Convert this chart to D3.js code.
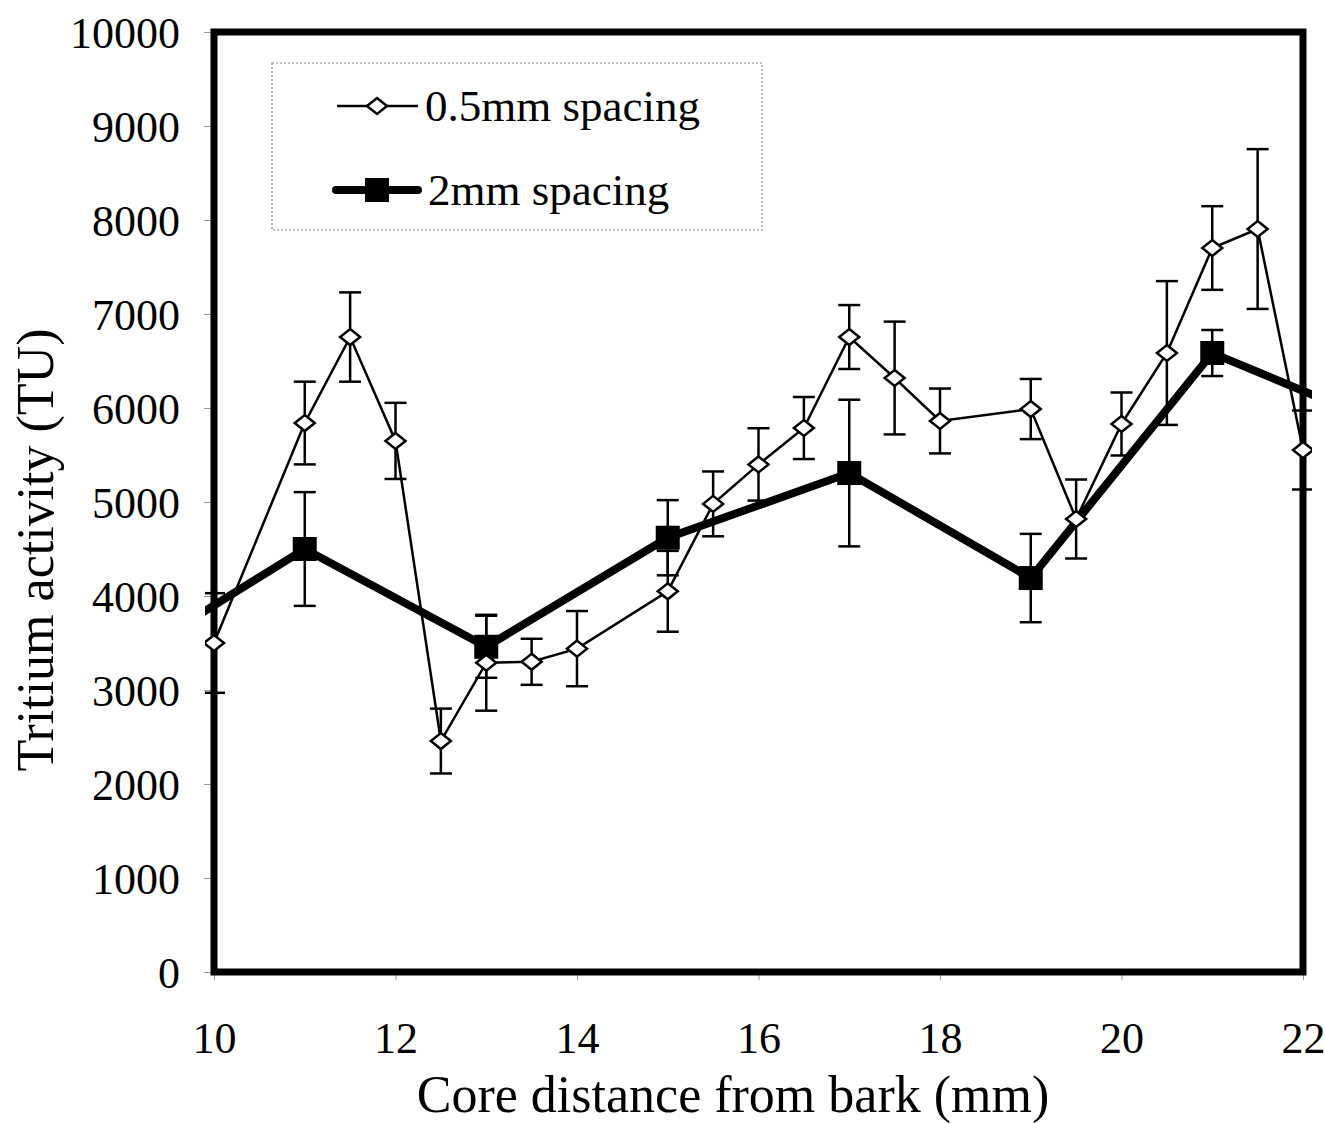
<!DOCTYPE html>
<html><head><meta charset="utf-8">
<script src="https://cdn.jsdelivr.net/npm/d3@7"></script>
<style>body{margin:0;background:#fff}svg{display:block}text{font-family:"Liberation Serif","Times New Roman",serif;fill:#000}</style>
</head><body><svg id="c" width="1325" height="1123"></svg>
<script>
// 0.5mm spacing series
const xFine   = [10, 11, 11.5, 12, 12.5, 13, 13.5, 14, 15, 15.5, 16, 16.5, 17, 17.5, 18, 19, 19.5, 20, 20.5, 21, 21.5, 22];
const yFine   = [3500, 5840, 6755, 5650, 2457, 3290, 3300, 3440, 4050, 4980, 5400, 5787, 6755, 6319, 5862, 5989, 4819, 5830, 6585, 7702, 7904, 5553];
const eFine   = [530, 440, 475, 405, 345, 510, 245, 400, 430, 345, 385, 330, 340, 600, 345, 320, 420, 335, 765, 445, 850, 420];
// 2mm spacing series (end points outside the axis range are clipped)
const xCoarse = [9, 11, 13, 15, 17, 19, 21, 23];
const yCoarse = [3300, 4500, 3460, 4620, 5308, 4191, 6585, 5780];
const eCoarse = [null, 605, 330, 400, 780, 470, 245, null];
const xTicks  = [10, 12, 14, 16, 18, 20, 22];
const yTicks  = [0, 1000, 2000, 3000, 4000, 5000, 6000, 7000, 8000, 9000, 10000];
const seriesNames = ["0.5mm spacing", "2mm spacing"];

const svg = d3.select("#c");
const L = 214, R = 1303, T = 32, B = 972;
const x = d3.scaleLinear().domain([10, 22]).range([L, R]);
const y = d3.scaleLinear().domain([0, 10000]).range([B, T]);

// axes (thin light ticks)
const gx = svg.append("g").attr("transform", `translate(0,${B})`)
  .call(d3.axisBottom(x).tickValues(xTicks).tickSize(8).tickPadding(42).tickFormat(d3.format("d")));
const gy = svg.append("g").attr("transform", `translate(${L},0)`)
  .call(d3.axisLeft(y).tickValues(yTicks).tickSize(10).tickPadding(24).tickFormat(d3.format("d")));
[gx, gy].forEach(g => {
  g.select(".domain").remove();
  g.selectAll(".tick line").attr("stroke", "#999").attr("stroke-width", 1);
  g.selectAll(".tick text").style("font-size", "44px").attr("font-family", "Liberation Serif");
});
gy.selectAll(".tick text").attr("dy", "0.35em");

// frame
svg.append("rect").attr("x", L).attr("y", T).attr("width", R - L).attr("height", B - T)
  .attr("fill", "none").attr("stroke", "#000").attr("stroke-width", 7);

// clip for series
svg.append("clipPath").attr("id", "clip").append("rect")
  .attr("x", 205).attr("y", 20).attr("width", 1312 - 205).attr("height", 970);

const plot = svg.append("g").attr("clip-path", "url(#clip)");
const fine = xFine.map((v, i) => ({x: v, y: yFine[i], e: eFine[i]}));
const coarse = xCoarse.map((v, i) => ({x: v, y: yCoarse[i], e: eCoarse[i]}));
const line = d3.line().x(d => x(d.x)).y(d => y(d.y));

plot.append("path").datum(coarse).attr("d", line).attr("fill", "none")
  .attr("stroke", "#000").attr("stroke-width", 8).attr("stroke-linejoin", "miter");
plot.append("path").datum(fine).attr("d", line).attr("fill", "none")
  .attr("stroke", "#000").attr("stroke-width", 2.5);

function errBars(data) {
  const g = plot.append("g").attr("stroke", "#000").attr("stroke-width", 2.5);
  data.filter(d => d.e != null && d.x >= 10 && d.x <= 22).forEach(d => {
    const cx = x(d.x), y1 = y(d.y + d.e), y2 = y(d.y - d.e);
    g.append("line").attr("x1", cx).attr("x2", cx).attr("y1", y1).attr("y2", y2);
    g.append("line").attr("x1", cx - 11).attr("x2", cx + 11).attr("y1", y1).attr("y2", y1);
    g.append("line").attr("x1", cx - 11).attr("x2", cx + 11).attr("y1", y2).attr("y2", y2);
  });
}
errBars(coarse);
errBars(fine);

const diamond = "M0,-8L10,0L0,8L-10,0Z";
plot.selectAll(".sq").data(coarse.filter(d => d.x >= 10 && d.x <= 22)).join("rect")
  .attr("x", d => x(d.x) - 12).attr("y", d => y(d.y) - 12).attr("width", 24).attr("height", 24).attr("fill", "#000");
plot.selectAll(".dm").data(fine).join("path")
  .attr("d", diamond).attr("transform", d => `translate(${x(d.x)},${y(d.y)})`)
  .attr("fill", "#fff").attr("stroke", "#000").attr("stroke-width", 2.5);

// legend
const lg = svg.append("g");
lg.append("rect").attr("x", 272).attr("y", 63).attr("width", 490).attr("height", 167)
  .attr("fill", "#fff").attr("stroke", "#888").attr("stroke-width", 1.2).attr("stroke-dasharray", "2,2");
lg.append("line").attr("x1", 337).attr("x2", 418).attr("y1", 106).attr("y2", 106).attr("stroke", "#000").attr("stroke-width", 2.5);
lg.append("path").attr("d", diamond).attr("transform", "translate(377,106)").attr("fill", "#fff").attr("stroke", "#000").attr("stroke-width", 2.5);
lg.append("text").attr("x", 425).attr("y", 121).style("font-size", "45px").text(seriesNames[0]);
lg.append("line").attr("x1", 336).attr("x2", 418).attr("y1", 190).attr("y2", 190).attr("stroke", "#000").attr("stroke-width", 8).attr("stroke-linecap", "round");
lg.append("rect").attr("x", 365).attr("y", 178).attr("width", 24).attr("height", 24).attr("fill", "#000");
lg.append("text").attr("x", 428).attr("y", 205).style("font-size", "45px").text(seriesNames[1]);

// axis titles
svg.append("text").attr("x", 733).attr("y", 1112).attr("text-anchor", "middle").style("font-size", "52px")
  .text("Core distance from bark (mm)");
svg.append("text").attr("transform", "translate(53,550) rotate(-90)").attr("text-anchor", "middle").style("font-size", "52px")
  .text("Tritium activity (TU)");
</script></body></html>
